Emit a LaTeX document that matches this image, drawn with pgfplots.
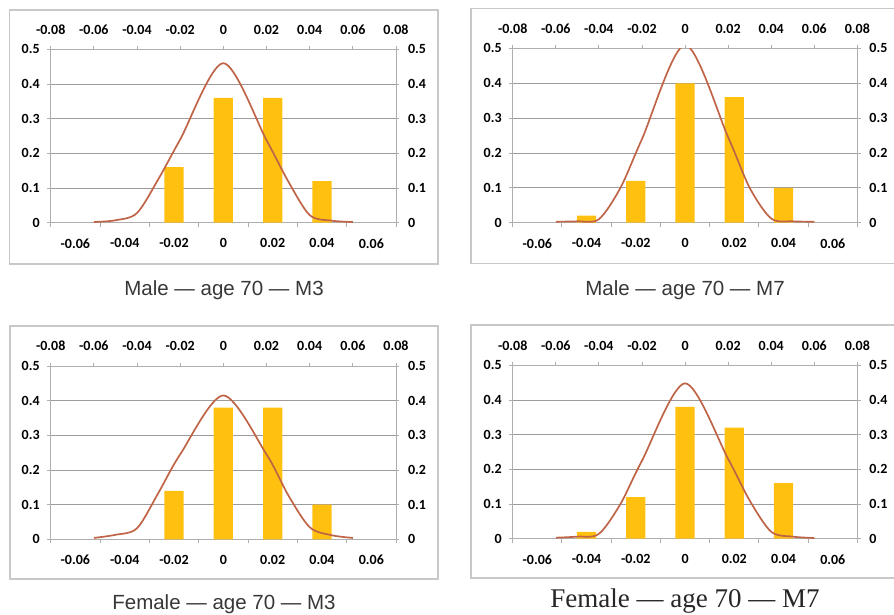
\documentclass[border=0pt]{standalone}
\usepackage{pgfplots}
\pgfplotsset{compat=1.18}
\usepackage{fontspec}
\newfontfamily\tickfont{Carlito}
\newfontfamily\capsans{Liberation Sans}
\newfontfamily\capserif{Liberation Serif}
\definecolor{barcol}{RGB}{255,192,16}
\definecolor{curvecol}{RGB}{192,100,72}
\definecolor{gridgray}{RGB}{160,155,155}
\definecolor{axgray}{RGB}{175,175,175}
\definecolor{boxgray}{RGB}{200,200,200}
\definecolor{captext}{RGB}{55,55,55}

\pgfplotsset{
  common/.style={
    scale only axis, anchor=south west,
    ymin=0, ymax=0.5,
    scaled ticks=false,
    tick align=outside,
    axis line style={draw=axgray, line width=0.9pt},
    tick style={draw=axgray, line width=0.9pt},
    ticklabel style={font=\tickfont\bfseries\fontsize{14}{14}\selectfont, text=black},
    ytick={0,0.1,0.2,0.3,0.4,0.5},
    yticklabels={0,0.1,0.2,0.3,0.4,0.5},
    major tick length=3.5pt,
  },
  barax/.style={common,
    xmin=-3.5, xmax=3.5,
    axis x line*=bottom, axis y line*=left,
    xtick={-3,-2,-1,0,1,2,3},
    xticklabels={-0.06,-0.04,-0.02,0,0.02,0.04,0.06},
    major x tick style={draw=none},
    extra x ticks={-3.5,-2.5,-1.5,-0.5,0.5,1.5,2.5,3.5},
    extra x tick labels={},
    extra x tick style={major x tick style={draw=axgray, line width=0.9pt}, major tick length=4pt},
    ymajorgrids, grid style={draw=gridgray, line width=0.9pt},
    xticklabel shift=9pt,
    yticklabel shift=4pt,
  },
  curveax/.style={common,
    xmin=-0.08, xmax=0.08,
    axis x line*=top, axis y line*=right,
    xtick={-0.08,-0.06,-0.04,-0.02,0,0.02,0.04,0.06,0.08},
    xticklabels={-0.08,-0.06,-0.04,-0.02,0,0.02,0.04,0.06,0.08},
    xticklabel shift=8pt,
    yticklabel shift=5pt,
  },
}

% #1 left, #2 bottom (pixels from top), #3 width, #4 height, #5 bars, #6 curve
\newcommand{\panel}[6]{%
  \begin{axis}[barax, at={(#1pt,-#2pt)}, width=#3pt, height=#4pt]
    \addplot[ybar, bar width=0.39, bar shift=0pt, fill=barcol, draw=none] coordinates {#5};
  \end{axis}
  \begin{axis}[curveax, at={(#1pt,-#2pt)}, width=#3pt, height=#4pt]
    \addplot[curvecol, line width=1.7pt, smooth, tension=0.5] coordinates {#6};
  \end{axis}}

\begin{document}
\begin{tikzpicture}
  \useasboundingbox (0,0) rectangle (894pt,-614pt);
  % frames
  \draw[boxgray, line width=1.2pt] (9.5pt,-10pt) rectangle (438pt,-264pt);
  \draw[boxgray, line width=1.2pt] (471pt,-8.5pt) rectangle (900pt,-263.5pt);
  \draw[boxgray, line width=1.2pt] (10pt,-326pt) rectangle (438pt,-579pt);
  \draw[boxgray, line width=1.2pt] (471pt,-325pt) rectangle (900pt,-578pt);

  % Male M3
  \panel{50.7}{222.7}{345.3}{173.4}
    {(-1,0.16) (0,0.36) (1,0.36) (2,0.12)}
    {(-0.06,0.002) (-0.05,0.007) (-0.04,0.028) (-0.03,0.127) (-0.02,0.24) (0,0.46)
     (0.02,0.238) (0.03,0.12) (0.04,0.022) (0.05,0.006) (0.06,0.002)}
  % Male M7
  \panel{512.7}{222.7}{344.7}{174.3}
    {(-2,0.02) (-1,0.12) (0,0.40) (1,0.36) (2,0.10)}
    {(-0.06,0.003) (-0.05,0.004) (-0.04,0.01) (-0.03,0.1) (-0.02,0.24) (0,0.51)
     (0.02,0.245) (0.03,0.1) (0.04,0.012) (0.05,0.004) (0.06,0.003)}
  % Female M3
  \panel{50.7}{539.3}{345.3}{173.3}
    {(-1,0.14) (0,0.38) (1,0.38) (2,0.10)}
    {(-0.06,0.004) (-0.05,0.013) (-0.04,0.032) (-0.03,0.135) (-0.02,0.245) (0,0.415)
     (0.02,0.245) (0.03,0.128) (0.04,0.035) (0.05,0.012) (0.06,0.004)}
  % Female M7
  \panel{512.7}{538.7}{344.7}{173.4}
    {(-2,0.02) (-1,0.12) (0,0.38) (1,0.32) (2,0.16)}
    {(-0.06,0.003) (-0.05,0.006) (-0.04,0.014) (-0.03,0.1) (-0.02,0.225) (0,0.448)
     (0.02,0.23) (0.03,0.11) (0.04,0.02) (0.05,0.006) (0.06,0.002)}

  % captions
  \node[anchor=base, text=captext, font=\capsans\fontsize{20.5}{21}\selectfont] at (224pt,-295pt) {Male — age 70 — M3};
  \node[anchor=base, text=captext, font=\capsans\fontsize{20.5}{21}\selectfont] at (685pt,-295pt) {Male — age 70 — M7};
  \node[anchor=base, text=captext, font=\capsans\fontsize{20.5}{21}\selectfont] at (224pt,-609pt) {Female — age 70 — M3};
  \node[anchor=base, text=black!85, font=\capserif\fontsize{27}{28}\selectfont] at (685pt,-607.5pt) {Female — age 70 — M7};
\end{tikzpicture}
\end{document}
